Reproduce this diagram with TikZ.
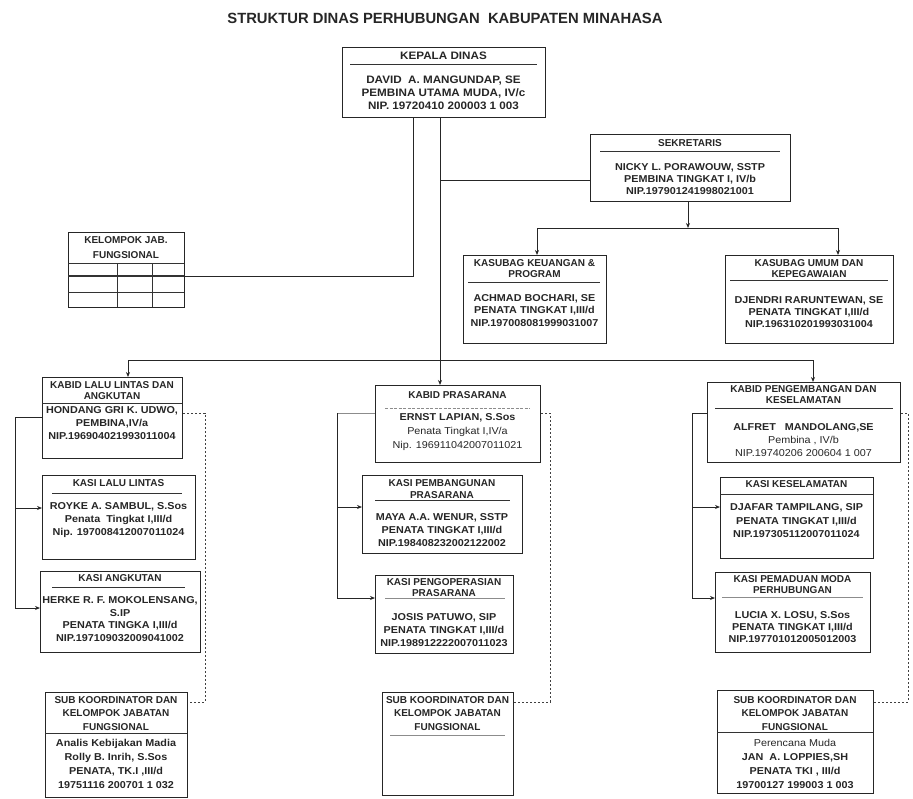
\documentclass[tikz,border=0pt]{standalone}
\usepackage{fontspec}
\setmainfont{Liberation Sans}
\newfontfamily\bodyfont[FakeStretch=1.08]{Liberation Sans}
\usetikzlibrary{arrows.meta}
\newcommand\mybox[5]{\node[box, minimum width={#4-#2}, minimum height={#5-#3}, anchor=north west] (#1) at (#2,#3) {};}
\begin{document}
\begin{tikzpicture}[x=1pt,y=-1pt,
 box/.style={draw=black!85, line width=1.2pt, inner sep=0pt},
 txt/.style={font=\bfseries\fontsize{10}{#1}\selectfont, align=center, inner sep=0pt, text=black!85},
 txt/.default=12.5,
 body/.style={font=\bodyfont\bfseries\fontsize{10}{#1}\selectfont, align=center, inner sep=0pt, text=black!85},
 body/.default=12.5,
 bigtxt/.style={font=\bodyfont\bfseries\fontsize{10.8}{#1}\selectfont, align=center, inner sep=0pt, text=black!85},
 bigtxt/.default=13,
 rule/.style={draw=black!80, line width=0.9pt},
 grule/.style={draw=black!45, line width=0.9pt},
 conn/.style={draw=black!85, line width=1pt},
 arr/.style={conn, -{Stealth[length=5pt,width=4pt]}},
 dotc/.style={draw=black!75, line width=1pt, dash pattern=on 2pt off 2pt},
]
\useasboundingbox (0,0) rectangle (913,798);

% title
\node[font=\bfseries\fontsize{14.8}{17}\selectfont, inner sep=0pt, text=black!85] (title) at (445,18) {STRUKTUR DINAS PERHUBUNGAN\ \ KABUPATEN MINAHASA};

% ---------- boxes ----------
\mybox{kp}{342}{47}{545}{117}
\mybox{sek}{590}{134}{790}{201}
\mybox{tab}{68}{232}{184}{307}
\mybox{keu}{463}{255}{606}{343}
\mybox{um}{725}{255}{893}{343}
\mybox{kbl}{42}{377}{182}{458}
\mybox{kll}{42}{475}{195}{559}
\mybox{kang}{40}{571}{200}{652}
\mybox{sl}{45}{692}{187}{797}
\mybox{kpr}{375}{385}{540}{462}
\mybox{kpb}{362}{475}{522}{553}
\mybox{kpo}{375}{575}{513}{653}
\mybox{sm}{382}{692}{513}{795}
\mybox{kbr}{707}{382}{900}{462}
\mybox{kks}{720}{477}{873}{558}
\mybox{kpm}{715}{572}{870}{652}
\mybox{sr}{717}{690}{873}{793}

% ---------- texts and rules ----------
% Kepala
\node[bigtxt] (kp-h) at (443.5,56) {KEPALA DINAS};
\draw[rule] (350,64) -- (537,64);
\node[bigtxt=13] (kp-b) at (443.5,93) {DAVID\ \ A. MANGUNDAP, SE\\PEMBINA UTAMA MUDA, IV/c\\NIP. 19720410 200003 1 003};
% Sekretaris
\node[txt] (sek-h) at (690,143) {SEKRETARIS};
\draw[rule] (600,151) -- (780,151);
\node[body=12] (sek-b) at (690,179) {NICKY L. PORAWOUW, SSTP\\PEMBINA TINGKAT I, IV/b\\NIP.197901241998021001};
% Kelompok jabatan fungsional table
\node[txt=15] (tab-h) at (126,248) {KELOMPOK JAB.\\FUNGSIONAL};
\draw[rule] (68,263) -- (184,263);
\draw[rule, line width=1.8pt] (68,276) -- (184,276);
\draw[rule] (68,292) -- (184,292);
\draw[rule] (117,263) -- (117,307);
\draw[rule] (152,263) -- (152,307);
% Keuangan
\node[txt=11] (keu-h) at (534.5,268.5) {KASUBAG KEUANGAN \&\\PROGRAM};
\draw[rule] (468,282) -- (600,282);
\node[body=12.5] (keu-b) at (534.5,310.5) {ACHMAD BOCHARI, SE\\PENATA TINGKAT I,III/d\\NIP.197008081999031007};
% Umum
\node[txt=11] (um-h) at (809,268.5) {KASUBAG UMUM DAN\\KEPEGAWAIAN};
\draw[rule] (730,280) -- (888,280);
\node[body=12] (um-b) at (809,312) {DJENDRI RARUNTEWAN, SE\\PENATA TINGKAT I,III/d\\NIP.196310201993031004};
% Kabid lalu lintas
\node[txt=11] (kbl-h) at (112,390.5) {KABID LALU LINTAS DAN\\ANGKUTAN};
\draw[rule] (42,403) -- (182,403);
\node[body=13] (kbl-b) at (112,423) {HONDANG GRI K. UDWO,\\PEMBINA,IV/a\\NIP.196904021993011004};
% Kasi lalu lintas
\node[txt] (kll-h) at (118.5,483) {KASI LALU LINTAS};
\draw[rule] (52,493) -- (182,493);
\node[body=13] (kll-b) at (118.5,520) {ROYKE A. SAMBUL, S.Sos\\Penata\ \ Tingkat I,III/d\\Nip. 197008412007011024};
% Kasi angkutan
\node[txt] (kang-h) at (120,578) {KASI ANGKUTAN};
\draw[rule] (52,587) -- (185,587);
\node[body=12.7] (kang-b) at (120,619) {HERKE R. F. MOKOLENSANG,\\S.IP\\PENATA TINGKA I,III/d\\NIP.197109032009041002};
% Sub koordinator left
\node[txt=13.5] (sl-h) at (116,713.5) {SUB KOORDINATOR DAN\\KELOMPOK JABATAN\\FUNGSIONAL};
\draw[rule] (45,733) -- (187,733);
\node[body=14] (sl-b) at (116,764) {Analis Kebijakan Madia\\Rolly B. Inrih, S.Sos\\PENATA, TK.I ,III/d\\19751116 200701 1 032};
% Kabid prasarana
\node[txt] (kpr-h) at (457.5,395) {KABID PRASARANA};
\draw[grule, dash pattern=on 3pt off 1.5pt] (385,408) -- (530,408);
\node[body=14] (kpr-b) at (457.5,432) {ERNST LAPIAN, S.Sos\\\mdseries Penata Tingkat I,IV/a\\\mdseries Nip. 196911042007011021};
% Kasi pembangunan
\node[txt=12] (kpb-h) at (442,489) {KASI PEMBANGUNAN\\PRASARANA};
\draw[rule] (375,500) -- (510,500);
\node[body=13] (kpb-b) at (442,530) {MAYA A.A. WENUR, SSTP\\PENATA TINGKAT I,III/d\\NIP.198408232002122002};
% Kasi pengoperasian
\node[txt=11] (kpo-h) at (444,587.5) {KASI PENGOPERASIAN\\PRASARANA};
\draw[grule] (385,598) -- (505,598);
\node[body=13] (kpo-b) at (444,630) {JOSIS PATUWO, SIP\\PENATA TINGKAT I,III/d\\NIP.198912222007011023};
% Sub koordinator middle
\node[txt=13.5] (sm-h) at (447.5,713.5) {SUB KOORDINATOR DAN\\KELOMPOK JABATAN\\FUNGSIONAL};
\draw[grule] (390,735) -- (505,735);
% Kabid pengembangan
\node[txt=11] (kbr-h) at (803.5,394.5) {KABID PENGEMBANGAN DAN\\KESELAMATAN};
\draw[rule] (715,408) -- (893,408);
\node[body=13] (kbr-b) at (803.5,440) {ALFRET\ \ \ MANDOLANG,SE\\\mdseries Pembina , IV/b\\\mdseries NIP.19740206 200604 1 007};
% Kasi keselamatan
\node[txt] (kks-h) at (796.5,484) {KASI KESELAMATAN};
\draw[rule] (720,494) -- (873,494);
\node[body=13.5] (kks-b) at (796.5,521) {DJAFAR TAMPILANG, SIP\\PENATA TINGKAT I,III/d\\NIP.197305112007011024};
% Kasi pemaduan moda
\node[txt=11] (kpm-h) at (792.5,585) {KASI PEMADUAN MODA\\PERHUBUNGAN};
\draw[grule] (722,597) -- (863,597);
\node[body=12] (kpm-b) at (792.5,627) {LUCIA X. LOSU, S.Sos\\PENATA TINGKAT I,III/d\\NIP.197701012005012003};
% Sub koordinator right
\node[txt=13.5] (sr-h) at (795,713.5) {SUB KOORDINATOR DAN\\KELOMPOK JABATAN\\FUNGSIONAL};
\draw[rule] (717,732) -- (873,732);
\node[body=14] (sr-b) at (795,764) {\mdseries Perencana Muda\\JAN\ \ A. LOPPIES,SH\\PENATA TKI , III/d\\19700127 199003 1 003};

% ---------- connectors ----------
\coordinate (j1) at (413,276);
\draw[conn] (kp.south -| j1) -- (j1) -- (tab.east |- j1);
\coordinate (j2) at (440,180);
\draw[arr] (kp.south -| j2) -- (kpr.north -| j2);
\draw[conn] (j2) -- (sek.west |- j2);
\coordinate (j3) at (688,228);
\coordinate (j3l) at (537,228);
\coordinate (j3r) at (838,228);
\draw[arr] (sek.south -| j3) -- (j3);
\draw[conn] (j3l) -- (j3r);
\draw[arr] (j3l) -- (keu.north -| j3l);
\draw[arr] (j3r) -- (um.north -| j3r);
\coordinate (h1) at (128,360);
\coordinate (h2) at (813,360);
\draw[conn] (h1) -- (h2);
\draw[arr] (h1) -- (kbl.north -| h1);
\draw[arr] (h2) -- (kbr.north -| h2);
% left bracket
\coordinate (b1) at (15,417);
\coordinate (b2) at (15,508);
\coordinate (b3) at (15,608);
\draw[conn] (kbl.west |- b1) -- (b1) -- (b3);
\draw[arr] (b2) -- (kll.west |- b2);
\draw[arr] (b3) -- (kang.west |- b3);
% middle bracket
\coordinate (m1) at (337,413);
\coordinate (m2) at (337,507);
\coordinate (m3) at (337,598);
\draw[conn, draw=black!45] (kpr.west |- m1) -- (m1);
\draw[conn] (m1) -- (m3);
\draw[arr] (m2) -- (kpb.west |- m2);
\draw[arr] (m3) -- (kpo.west |- m3);
% right bracket
\coordinate (r1) at (692,413);
\coordinate (r2) at (692,507);
\coordinate (r3) at (692,598);
\draw[conn] (kbr.west |- r1) -- (r1) -- (r3);
\draw[arr] (r2) -- (kks.west |- r2);
\draw[arr] (r3) -- (kpm.west |- r3);
% dotted links to sub koordinator
\coordinate (dl1) at (205,413);
\coordinate (dl2) at (205,702);
\draw[dotc] (kbl.east |- dl1) -- (dl1) -- (dl2) -- (sl.east |- dl2);
\coordinate (dm1) at (550,413);
\coordinate (dm2) at (550,702);
\draw[dotc] (kpr.east |- dm1) -- (dm1) -- (dm2) -- (sm.east |- dm2);
\coordinate (dr1) at (908,413);
\coordinate (dr2) at (908,702);
\draw[dotc] (kbr.east |- dr1) -- (dr1) -- (dr2) -- (sr.east |- dr2);
\end{tikzpicture}
\end{document}
